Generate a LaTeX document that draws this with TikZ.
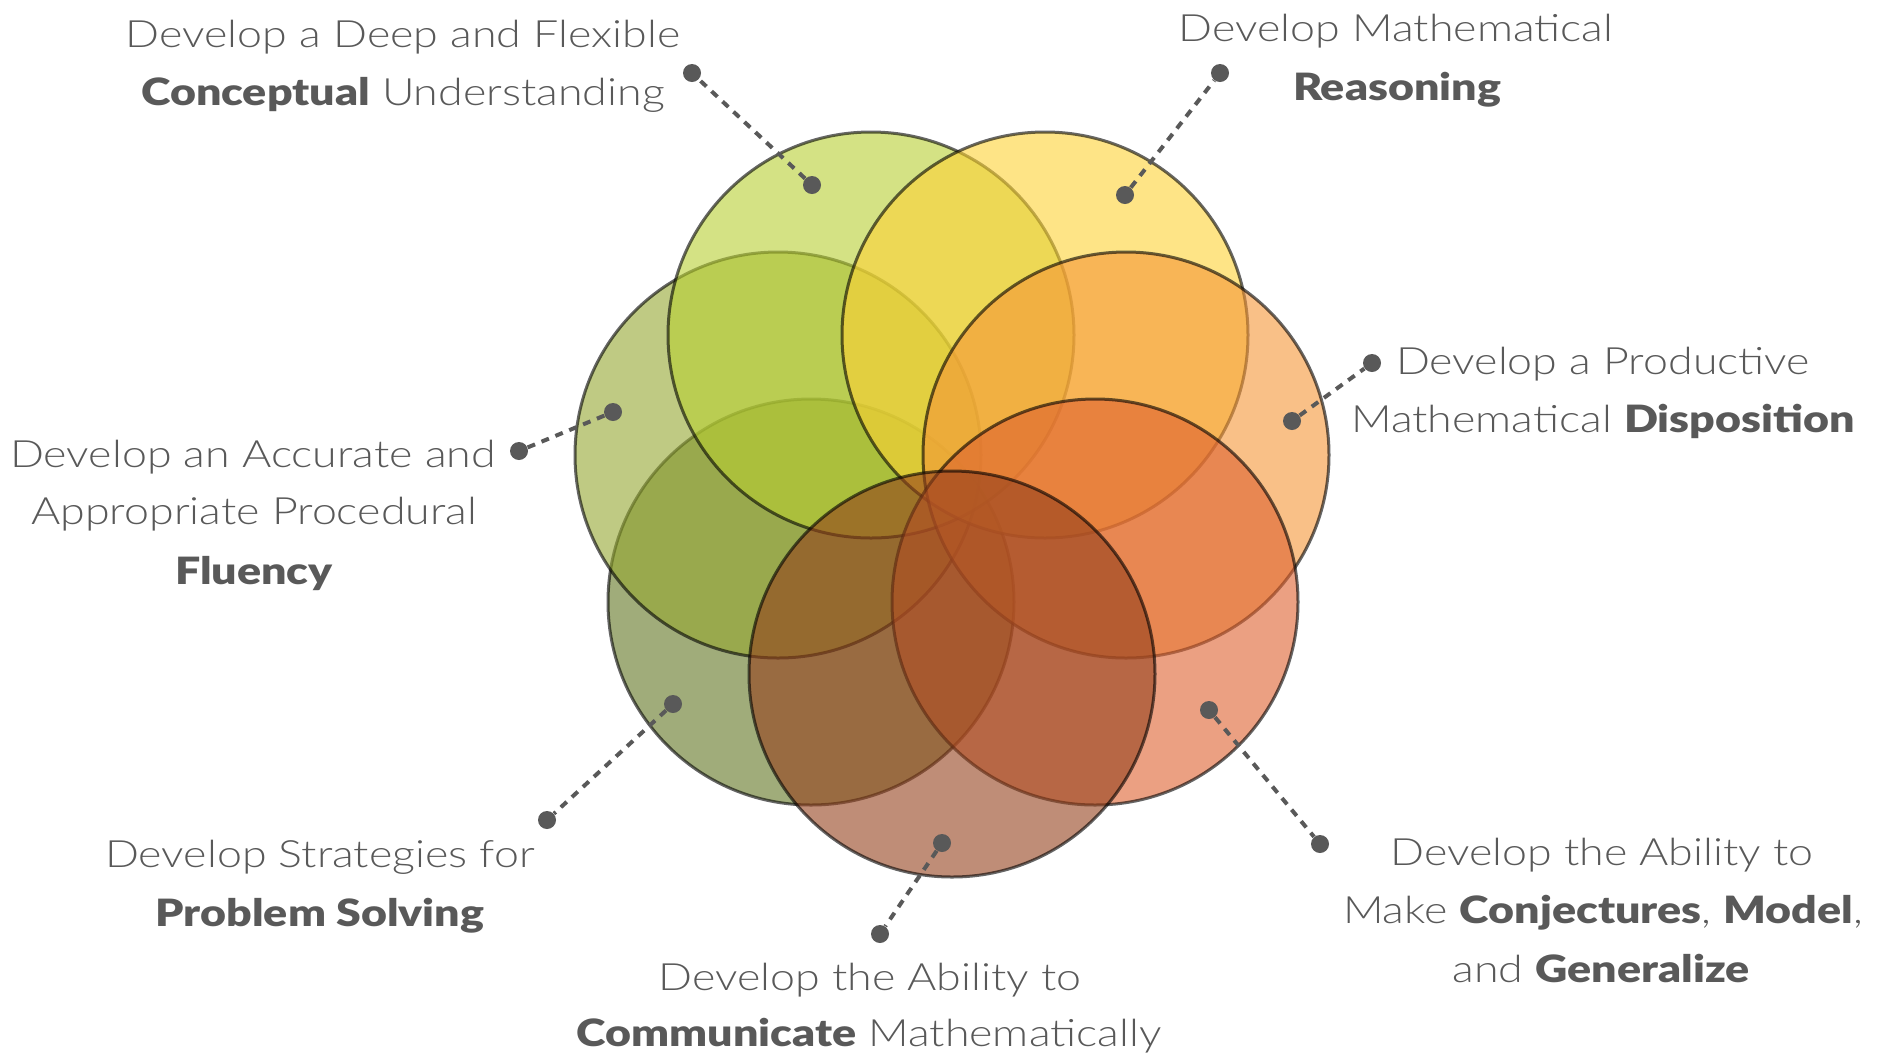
\documentclass[tikz,border=0pt]{standalone}
\usepackage{graphicx}
\usepackage{fontspec}
\setmainfont{Lato Light}[BoldFont={Lato Black}]
\newcommand{\wtxt}[1]{\scalebox{1.19}[1]{#1}}
\definecolor{txt}{RGB}{89,89,89}
\definecolor{cA}{RGB}{183,207,50}
\definecolor{cB}{RGB}{253,210,53}
\definecolor{cC}{RGB}{148,167,48}
\definecolor{cD}{RGB}{245,150,55}
\definecolor{cE}{RGB}{97,117,33}
\definecolor{cF}{RGB}{222,97,47}
\definecolor{cG}{RGB}{148,65,28}
\begin{document}
\begin{tikzpicture}[x=0.5pt,y=-0.5pt,
  bub/.style={circle, minimum size=203pt, inner sep=0pt, line width=1.5pt, draw=black, draw opacity=0.6, fill opacity=0.6},
  dotn/.style={circle, fill=txt, minimum size=9pt, inner sep=0pt},
  conn/.style={draw=txt, line width=2pt, dash pattern=on 4pt off 3.5pt},
  lbl/.style={anchor=base, inner sep=0pt, text=txt, font=\fontsize{18.8pt}{22pt}\selectfont}]
\useasboundingbox (0,0) rectangle (1879,1057);
% circles
\node[bub, fill=cE] (c5) at (811,602) {};
\node[bub, fill=cC] (c3) at (778,455) {};
\node[bub, fill=cA] (c1) at (871,335) {};
\node[bub, fill=cB] (c2) at (1045,335) {};
\node[bub, fill=cD] (c4) at (1126,455) {};
\node[bub, fill=cF] (c6) at (1095,602) {};
\node[bub, fill=cG] (c7) at (952,674) {};
% dots
\node[dotn] (i1) at (812,185) {};
\node[dotn] (o1) at (692,73) {};
\node[dotn] (i2) at (1125,195) {};
\node[dotn] (o2) at (1220,73) {};
\node[dotn] (i3) at (1292,421) {};
\node[dotn] (o3) at (1372,363) {};
\node[dotn] (i4) at (613,412) {};
\node[dotn] (o4) at (519,451) {};
\node[dotn] (i5) at (673,704) {};
\node[dotn] (o5) at (547,820) {};
\node[dotn] (i6) at (942,843) {};
\node[dotn] (o6) at (880,934) {};
\node[dotn] (i7) at (1209,710) {};
\node[dotn] (o7) at (1320,844) {};
\draw[conn] (i1) -- (o1);
\draw[conn] (i2) -- (o2);
\draw[conn] (i3) -- (o3);
\draw[conn] (i4) -- (o4);
\draw[conn] (i5) -- (o5);
\draw[conn] (i6) -- (o6);
\draw[conn] (i7) -- (o7);
% labels
\node[lbl] (t1a) at (403,47) {\wtxt{Develop a Deep and Flexible}};
\node[lbl] (t1b) at (403,105) {\wtxt{\textbf{Conceptual} Understanding}};
\node[lbl] (t2a) at (1396,41) {\wtxt{Develop Mathematical}};
\node[lbl] (t2b) at (1397,100) {\wtxt{\textbf{Reasoning}}};
\node[lbl] (t3a) at (1603,374) {\wtxt{Develop a Productive}};
\node[lbl] (t3b) at (1603,432) {\wtxt{Mathematical \textbf{Disposition}}};
\node[lbl] (t4a) at (253,467) {\wtxt{Develop an Accurate and}};
\node[lbl] (t4b) at (254,524) {\wtxt{Appropriate Procedural}};
\node[lbl] (t4c) at (254,584) {\wtxt{\textbf{Fluency}}};
\node[lbl] (t5a) at (320,867) {\wtxt{Develop Strategies for}};
\node[lbl] (t5b) at (320,926) {\wtxt{\textbf{Problem Solving}}};
\node[lbl] (t6a) at (870,990) {\wtxt{Develop the Ability to}};
\node[lbl] (t6b) at (869,1046) {\wtxt{\textbf{Communicate} Mathematically}};
\node[lbl] (t7a) at (1602,865) {\wtxt{Develop the Ability to}};
\node[lbl] (t7b) at (1603,923) {\wtxt{Make \textbf{Conjectures}, \textbf{Model},}};
\node[lbl] (t7c) at (1601,982) {\wtxt{and \textbf{Generalize}}};
\end{tikzpicture}
\end{document}
